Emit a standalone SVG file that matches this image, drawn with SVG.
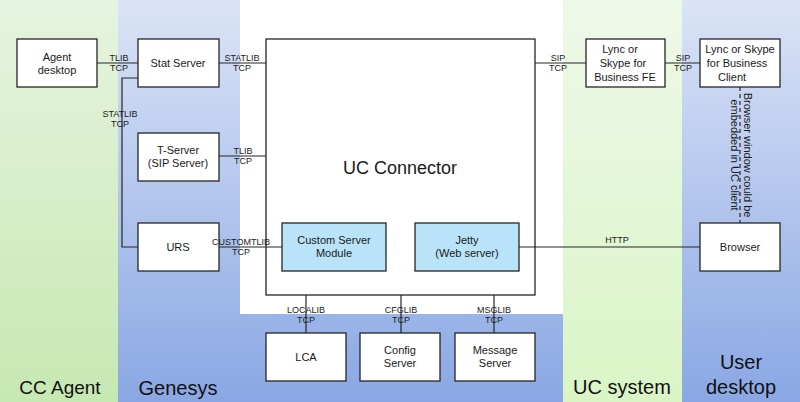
<svg xmlns="http://www.w3.org/2000/svg" width="800" height="402" viewBox="0 0 800 402">
<defs>
<linearGradient id="gBlue" gradientUnits="userSpaceOnUse" x1="0" y1="0" x2="0" y2="402">
<stop offset="0" stop-color="#dbe4f6"/>
<stop offset="1" stop-color="#8aa7e4"/>
</linearGradient>
<linearGradient id="gGreen" gradientUnits="userSpaceOnUse" x1="0" y1="0" x2="0" y2="402">
<stop offset="0" stop-color="#e6f4df"/>
<stop offset="1" stop-color="#c6e8b2"/>
</linearGradient>
<linearGradient id="gGreen2" gradientUnits="userSpaceOnUse" x1="0" y1="0" x2="0" y2="402">
<stop offset="0" stop-color="#eef8e8"/>
<stop offset="1" stop-color="#d9f5c6"/>
</linearGradient>
<style>
.box{fill:#ffffff;stroke:#262626;stroke-width:1.3}
.inner{fill:#b9e3f8;stroke:#262626;stroke-width:1.3}
.ln{stroke:#262626;stroke-width:1.2;fill:none}
.t{font-family:"Liberation Sans",Arial,sans-serif;font-size:11px;fill:#1a1a1a;text-anchor:middle}
.s{font-family:"Liberation Sans",Arial,sans-serif;font-size:9px;fill:#1a1a1a;text-anchor:middle}
.big{font-family:"Liberation Sans",Arial,sans-serif;font-size:20px;fill:#111111;text-anchor:middle}
</style>
</defs>
<!-- backgrounds -->
<rect x="0" y="0" width="118" height="402" fill="url(#gGreen)"/>
<rect x="118" y="0" width="122" height="402" fill="url(#gBlue)"/>
<rect x="240" y="0" width="323" height="314" fill="#ffffff"/>
<rect x="240" y="314" width="323" height="88" fill="url(#gBlue)"/>
<rect x="563" y="0" width="119" height="402" fill="url(#gGreen2)"/>
<rect x="682" y="0" width="118" height="402" fill="url(#gBlue)"/>
<text class="big" x="60" y="394" style="font-size:19px">CC Agent</text>
<text class="big" x="178" y="395">Genesys</text>
<text class="big" x="622" y="394">UC system</text>
<text class="big" x="741" y="369">User</text>
<text class="big" x="741" y="394">desktop</text>

<!-- nodes -->
<g id="agent-desktop">
<rect class="box" x="17" y="39" width="80" height="48"/>
<text class="t" x="57" y="61">Agent</text>
<text class="t" x="57" y="74">desktop</text>
</g>
<g id="stat-server">
<rect class="box" x="138" y="39" width="81" height="48"/>
<text class="t" x="178" y="67">Stat Server</text>
</g>
<g id="t-server">
<rect class="box" x="138" y="133" width="81" height="48"/>
<text class="t" x="178" y="154">T-Server</text>
<text class="t" x="178" y="167">(SIP Server)</text>
</g>
<g id="urs">
<rect class="box" x="138" y="223" width="81" height="48"/>
<text class="t" x="178" y="251">URS</text>
</g>
<g id="uc-connector">
<rect class="box" x="266" y="39" width="269" height="256"/>
<text class="t" x="400" y="174" style="font-size:18px">UC Connector</text>
</g>
<g id="custom-server-module">
<rect class="inner" x="282" y="223" width="104" height="48"/>
<text class="t" x="334" y="244">Custom Server</text>
<text class="t" x="334" y="257">Module</text>
</g>
<g id="jetty">
<rect class="inner" x="415" y="223" width="104" height="48"/>
<text class="t" x="467" y="244">Jetty</text>
<text class="t" x="467" y="257">(Web server)</text>
</g>
<g id="lca">
<rect class="box" x="266" y="333" width="80" height="48"/>
<text class="t" x="306" y="361">LCA</text>
</g>
<g id="config-server">
<rect class="box" x="360" y="333" width="80" height="48"/>
<text class="t" x="400" y="354">Config</text>
<text class="t" x="400" y="367">Server</text>
</g>
<g id="message-server">
<rect class="box" x="455" y="333" width="80" height="48"/>
<text class="t" x="495" y="354">Message</text>
<text class="t" x="495" y="367">Server</text>
</g>
<g id="lync-fe">
<rect class="box" x="586" y="39" width="79" height="48"/>
<text class="t" x="620" y="53">Lync or</text>
<text class="t" x="623" y="67">Skype for</text>
<text class="t" x="625" y="81">Business FE</text>
</g>
<g id="lync-client">
<rect class="box" x="700" y="39" width="80" height="48"/>
<text class="t" x="740" y="53">Lync or Skype</text>
<text class="t" x="737" y="67">for Business</text>
<text class="t" x="732" y="81">Client</text>
</g>
<g id="browser">
<rect class="box" x="700" y="223" width="80" height="48"/>
<text class="t" x="740" y="251">Browser</text>
</g>

<!-- connectors -->
<g id="connectors">
<line class="ln" x1="97" y1="63" x2="138" y2="63"/>
<line class="ln" x1="219" y1="63" x2="266" y2="63"/>
<polyline class="ln" points="138,78 122,78 122,247 138,247"/>
<line class="ln" x1="219" y1="156" x2="266" y2="156"/>
<line class="ln" x1="219" y1="247" x2="282" y2="247"/>
<line class="ln" x1="535" y1="63" x2="586" y2="63"/>
<line class="ln" x1="665" y1="63" x2="700" y2="63"/>
<line class="ln" x1="519" y1="247" x2="700" y2="247"/>
<line class="ln" x1="740" y1="87" x2="740" y2="223" stroke-dasharray="4,3"/>
<line class="ln" x1="306" y1="295" x2="306" y2="333"/>
<line class="ln" x1="401" y1="295" x2="401" y2="333"/>
<line class="ln" x1="494" y1="295" x2="494" y2="333"/>
<text class="s" x="119" y="61">TLIB</text>
<text class="s" x="119" y="71">TCP</text>
<text class="s" x="242" y="61">STATLIB</text>
<text class="s" x="242" y="71">TCP</text>
<text class="s" x="120" y="117">STATLIB</text>
<text class="s" x="120" y="127">TCP</text>
<text class="s" x="243" y="154">TLIB</text>
<text class="s" x="243" y="164">TCP</text>
<text class="s" x="241" y="245">CUSTOMTLIB</text>
<text class="s" x="241" y="255">TCP</text>
<text class="s" x="558" y="61">SIP</text>
<text class="s" x="558" y="71">TCP</text>
<text class="s" x="683" y="61">SIP</text>
<text class="s" x="683" y="71">TCP</text>
<text class="s" x="617" y="243">HTTP</text>
<text class="s" x="306" y="313">LOCALIB</text>
<text class="s" x="306" y="323">TCP</text>
<text class="s" x="401" y="313">CFGLIB</text>
<text class="s" x="401" y="323">TCP</text>
<text class="s" x="494" y="313">MSGLIB</text>
<text class="s" x="494" y="323">TCP</text>
<text class="t" transform="translate(744,155) rotate(90)">Browser window could be</text>
<text class="t" transform="translate(731,155) rotate(90)">embedded in UC client</text>
</g>
</svg>
